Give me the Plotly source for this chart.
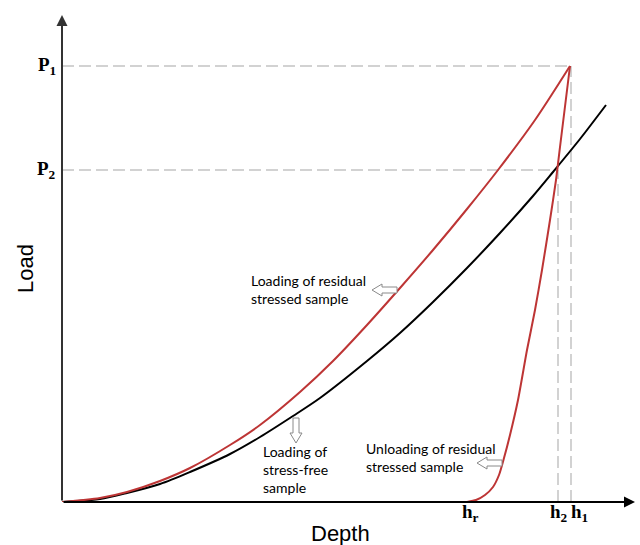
import plotly.graph_objects as go

# Depth / load values (arbitrary units)
stress_free_depth = [0, 38, 65, 98, 128, 168, 198, 231, 258, 305, 338, 371, 405, 438, 471, 491, 518, 544]
stress_free_load  = [0, 3, 9, 18, 30, 48, 65, 86, 104, 141, 169, 200, 234, 269, 306, 330, 363, 397]

residual_load_depth = [0, 38, 65, 98, 128, 168, 198, 238, 271, 305, 338, 371, 405, 436, 473, 508]
residual_load_load  = [0, 4, 10, 21, 34, 57, 77, 110, 141, 177, 214, 252, 293, 332, 382, 436]

unload_depth = [508, 498, 494, 488, 480, 473, 465, 456, 448, 442, 437, 431, 423, 414, 405]
unload_load  = [436, 355, 322, 282, 232, 192, 152, 102, 67, 44, 27, 15, 7, 2, 0]

P1, P2 = 436, 332
h1, h2, hr = 509, 496, 406

y_tick_labels = [("P", "1", P1), ("P", "2", P2)]
# label text and the left edge where it starts
x_tick_labels = [("h", "r", 398), ("h", "2", 486), ("h", "1", 507)]

notes = [
    ("Loading of residual<br>stressed sample", 187, 213),
    ("Loading of<br>stress-free<br>sample", 199, 33),
    ("Unloading of residual<br>stressed sample", 302, 45),
]
# hollow arrows: tip x, tip y, direction
arrows = [(310, 212, "left"), (234, 59, "down"), (415, 39, "left")]

X_MAX, Y_MAX = 573, 487
RED = "#bd3535"
GUIDE = "#c4c4c4"

fig = go.Figure()
fig.add_trace(go.Scatter(x=stress_free_depth, y=stress_free_load, mode="lines",
                         line=dict(color="black", width=2, shape="spline", smoothing=0.8), hoverinfo="skip"))
fig.add_trace(go.Scatter(x=residual_load_depth, y=residual_load_load, mode="lines",
                         line=dict(color=RED, width=2, shape="spline", smoothing=0.8), hoverinfo="skip"))
fig.add_trace(go.Scatter(x=unload_depth, y=unload_load, mode="lines",
                         line=dict(color=RED, width=2, shape="spline", smoothing=0.6), hoverinfo="skip"))

shapes = []
dash = dict(color=GUIDE, width=1.5, dash="12px,5px")
shapes.append(dict(type="line", x0=0, x1=h1, y0=P1, y1=P1, line=dash, layer="below"))
shapes.append(dict(type="line", x0=0, x1=h2, y0=P2, y1=P2, line=dash, layer="below"))
shapes.append(dict(type="line", x0=h1, x1=h1, y0=0, y1=P1, line=dash, layer="below"))
shapes.append(dict(type="line", x0=h2, x1=h2, y0=0, y1=P2, line=dash, layer="below"))

L, HL, HW, SW = 25, 10, 6, 3
for tx, ty, d in arrows:
    if d == "left":
        pts = [(tx, ty), (tx + HL, ty + HW), (tx + HL, ty + SW), (tx + L, ty + SW),
               (tx + L, ty - SW), (tx + HL, ty - SW), (tx + HL, ty - HW)]
    else:
        pts = [(tx, ty), (tx - HW, ty + HL), (tx - SW, ty + HL), (tx - SW, ty + L),
               (tx + SW, ty + L), (tx + SW, ty + HL), (tx + HW, ty + HL)]
    path = "M " + " L ".join(f"{x},{y}" for x, y in pts) + " Z"
    shapes.append(dict(type="path", path=path, line=dict(color="#8a8a8a", width=1), fillcolor="white"))

annotations = []
# axes with arrowheads
annotations.append(dict(x=X_MAX, y=0, ax=0, ay=0, xref="x", yref="y", axref="x", ayref="y",
                        text="", showarrow=True, arrowhead=2, arrowsize=1.1, arrowwidth=2, arrowcolor="black"))
annotations.append(dict(x=0, y=Y_MAX, ax=0, ay=0, xref="x", yref="y", axref="x", ayref="y",
                        text="", showarrow=True, arrowhead=2, arrowsize=1.1, arrowwidth=2, arrowcolor="#333"))


def px(v):
    return v / X_MAX


def py(v):
    return v / Y_MAX


serif = dict(family="Liberation Serif", size=19, color="black")
for base, sub, val in y_tick_labels:
    annotations.append(dict(x=px(-4), y=py(val), xref="paper", yref="paper", text=f"<b>{base}<sub>{sub}</sub></b>",
                            showarrow=False, xanchor="right", yanchor="middle", font=serif))
for base, sub, left in x_tick_labels:
    annotations.append(dict(x=px(left), y=py(3), xref="paper", yref="paper", text=f"<b>{base}<sub>{sub}</sub></b>",
                            showarrow=False, xanchor="left", yanchor="top", font=serif))

for txt, x, y in notes:
    annotations.append(dict(x=x, y=y, xref="x", yref="y", text=txt, showarrow=False,
                            xanchor="left", yanchor="middle", align="left",
                            font=dict(family="Lato", size=14, color="black")))

annotations.append(dict(x=px(-37), y=py(233), xref="paper", yref="paper", text="Load", textangle=-90,
                        xanchor="center", yanchor="middle",
                        showarrow=False, font=dict(family="Liberation Sans", size=22, color="black")))
annotations.append(dict(x=px(278), y=py(-31), xref="paper", yref="paper", text="Depth", showarrow=False,
                        xanchor="center", yanchor="middle",
                        font=dict(family="Liberation Sans", size=22, color="black")))

fig.update_layout(
    width=640, height=545,
    margin=dict(l=62, r=5, t=15, b=43),
    paper_bgcolor="white", plot_bgcolor="white",
    showlegend=False,
    xaxis=dict(range=[0, X_MAX], visible=False, fixedrange=True),
    yaxis=dict(range=[0, Y_MAX], visible=False, fixedrange=True),
    shapes=shapes, annotations=annotations,
)

fig.write_html("out.html")
